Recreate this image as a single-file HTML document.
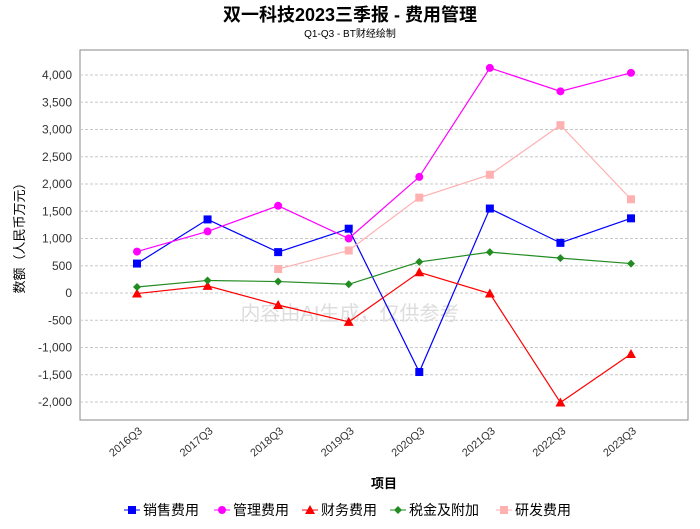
<!DOCTYPE html>
<html><head><meta charset="utf-8"><style>
body{margin:0;background:#fff;font-family:"Liberation Sans","Noto Sans CJK SC",sans-serif}
</style></head><body>
<svg id="c" width="700" height="524" xmlns="http://www.w3.org/2000/svg"></svg>
<script>
const categories=["2016Q3","2017Q3","2018Q3","2019Q3","2020Q3","2021Q3","2022Q3","2023Q3"];
const sales=[540,1350,750,1180,-1450,1550,920,1370];
const mgmt=[760,1130,1600,1000,2130,4130,3700,4040];
const fin=[-10,130,-220,-530,380,-10,-2010,-1120];
const tax=[110,230,210,160,570,750,640,540];
const rd=[null,null,440,780,1750,2170,3080,1720];
const yTicks=[-2000,-1500,-1000,-500,0,500,1000,1500,2000,2500,3000,3500,4000];
const NS="http://www.w3.org/2000/svg",svg=document.getElementById('c');
const L=80,R=688,T=50,B=420;
const y=v=>293-v*(218/4000);
const x=i=>137+i*70.57;
function el(t,a,txt){const e=document.createElementNS(NS,t);for(const k in a)e.setAttribute(k,a[k]);if(txt!=null)e.textContent=txt;svg.appendChild(e);return e;}
let e;
e=el('text',{x:350,y:21,'text-anchor':'middle','font-size':18,'font-weight':'bold'},'双一科技2023三季报 - 费用管理');

e=el('text',{x:350,y:37,'text-anchor':'middle','font-size':10},'Q1-Q3 - BT财经绘制');

e=el('rect',{x:L,y:T,width:R-L,height:B-T,fill:'#fff',stroke:'#888'});

yTicks.forEach(v=>{
 e=el('line',{x1:L,x2:R,y1:y(v),y2:y(v),stroke:'#c8c8c8','stroke-dasharray':'3,2'});
 
 e=el('text',{x:L-8,y:y(v)+4,'text-anchor':'end','font-size':12,fill:'#333'},v.toLocaleString('en-US'));
 
});
e=el('text',{x:350,y:320,'text-anchor':'middle','font-size':20,fill:'#ddd'},'内容由AI生成，仅供参考');

categories.forEach((c,i)=>{
 e=el('text',{x:x(i)+6,y:432,'text-anchor':'end','font-size':11,fill:'#333',transform:`rotate(-40 ${x(i)+6} 432)`},c);
 
});
e=el('text',{x:384,y:488,'text-anchor':'middle','font-size':13,'font-weight':'bold'},'项目');

e=el('text',{x:24,y:235,'text-anchor':'middle','font-size':13,transform:'rotate(-90 24 235)'},'数额（人民币万元）');

function marker(type,cx,cy,col){
 if(type==='sq')return el('rect',{x:cx-4,y:cy-4,width:8,height:8,fill:col});
 if(type==='ci')return el('circle',{cx,cy,r:4,fill:col});
 if(type==='tr')return el('polygon',{points:`${cx},${cy-5} ${cx+5},${cy+4} ${cx-5},${cy+4}`,fill:col});
 if(type==='di')return el('polygon',{points:`${cx},${cy-4} ${cx+4},${cy} ${cx},${cy+4} ${cx-4},${cy}`,fill:col});
}
const series=[["销售费用",sales,'#0000ff','sq'],["管理费用",mgmt,'#ff00ff','ci'],["财务费用",fin,'#ff0000','tr'],["税金及附加",tax,'#228b22','di'],["研发费用",rd,'#ffb0b0','sq']];
series.forEach(([n,d,col,m],si)=>{
 const pts=d.map((v,i)=>v==null?null:[x(i),y(v)]).filter(p=>p);
 e=el('polyline',{points:pts.map(p=>p.join(',')).join(' '),fill:'none',stroke:col,'stroke-width':1.2});
 
 pts.forEach(p=>{e=marker(m,p[0],p[1],col);
 });
});
const lx=[124,214,302,390,496];
series.forEach(([n,d,col,m],i)=>{
 e=el('line',{x1:lx[i],x2:lx[i]+16,y1:510,y2:510,stroke:col});
 
 e=marker(m,lx[i]+8,510,col);
 
 e=el('text',{x:lx[i]+19,y:515,'font-size':14},n);
 
});
</script></body></html>
